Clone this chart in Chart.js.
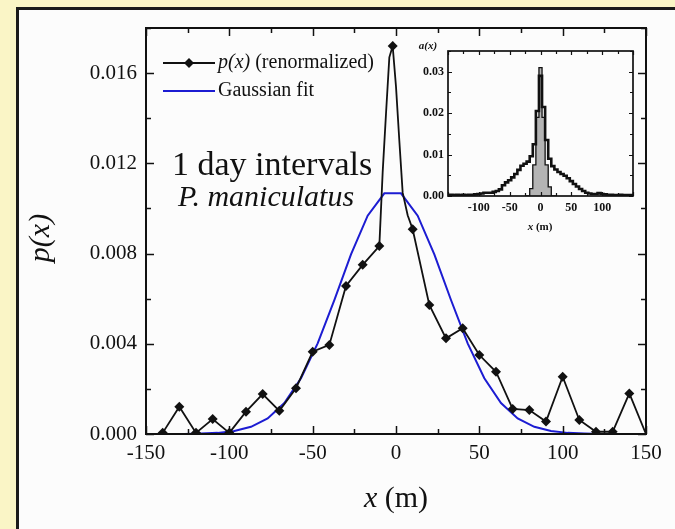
<!DOCTYPE html>
<html><head><meta charset="utf-8">
<script src="https://cdn.jsdelivr.net/npm/chart.js@4.4.0/dist/chart.umd.min.js"></script>
<style>
html,body{margin:0;padding:0;}
body{width:675px;height:529px;background:#faf5c6;position:relative;overflow:hidden;}
#panel{position:absolute;left:16px;top:7px;width:680px;height:540px;background:#fcfcfc;border:3px solid #1a1a1a;box-sizing:border-box;}
#main{position:absolute;left:0;top:0;width:675px;height:529px;}
#inset{position:absolute;left:400px;top:38px;width:245px;height:200px;}
</style></head><body>
<div id="panel"></div>
<canvas id="main" width="675" height="529"></canvas>
<canvas id="inset" width="245" height="200"></canvas>
<script>
// ---------- data ----------
const pX = [-140,-130,-120,-110,-100,-90,-80,-70,-60,-50,-40,-30,-20,-10,-8,-6,-4,-2,0,2,4,7,10,20,30,40,50,60,70,80,90,100,110,120,130,140,150];
const pY = [0.00005,0.00121,0.00005,0.00066,0.00005,0.00099,0.00177,0.00103,0.00203,0.00365,0.00395,0.00656,0.0075,0.00833,0.0116,0.0142,0.0167,0.0172,0.0154,0.0130,0.0107,0.0097,0.00908,0.00572,0.00424,0.00469,0.0035,0.00276,0.00111,0.00106,0.00055,0.00254,0.00062,0.0001,0.0001,0.0018,0];
const peakX = -2;

const gX = [-150,-147,-137,-127,-117,-107,-97,-87,-77,-67,-57,-47,-37,-27,-17,-7,3,13,23,33,43,53,63,73,83,93,103,113,123,133,143,150];
const gY = [0,0,0,0,0.00002,0.00005,0.00013,0.00032,0.00069,0.00137,0.00247,0.00402,0.00594,0.00796,0.00968,0.01067,0.01067,0.00968,0.00796,0.00594,0.00402,0.00247,0.00137,0.00069,0.00032,0.00013,0.00005,0.00002,0,0,0,0];

const xTicks = [-150,-100,-50,0,50,100,150];
const yTicks = [0,0.004,0.008,0.012,0.016];

const aX = [-150,-145,-140,-135,-130,-125,-120,-115,-110,-105,-100,-95,-90,-85,-80,-75,-70,-65,-60,-55,-50,-45,-40,-35,-30,-25,-20,-15,-10,-5,0,5,10,15,20,25,30,35,40,45,50,55,60,65,70,75,80,85,90,95,100,105,110,115,120,125,130,135,140,145,150];
const aBroad = [0.0002,0.0003,0.0002,0.0003,0.0002,0.0003,0.0002,0.0003,0.0003,0.0004,0.0005,0.0006,0.0008,0.0008,0.0008,0.0010,0.0012,0.0016,0.0026,0.0033,0.0038,0.0045,0.0053,0.0063,0.0073,0.0078,0.0083,0.0096,0.0125,0.0205,0.0290,0.0215,0.0135,0.0090,0.0072,0.0064,0.0058,0.0053,0.0049,0.0043,0.0036,0.0029,0.0023,0.0017,0.0012,0.0008,0.0006,0.0005,0.0005,0.0007,0.0005,0.0004,0.0003,0.0003,0.0002,0.0002,0.0003,0.0002,0.0002,0.0002,0.0002];
const nX = [-25,-20,-15,-10,-5,0,5,10,15,20,25];
const aNarrow = [0,0,0.0018,0.0075,0.019,0.031,0.019,0.0075,0.0022,0,0];
const insetXTicks = [-100,-50,0,50,100];
const insetYTicks = [0,0.01,0.02,0.03];

const legendP = [{t:'p(x)',i:true},{t:' (renormalized)',i:false}];
const legendG = [{t:'Gaussian fit',i:false}];
const note1 = '1 day intervals';
const note2 = 'P. maniculatus';
const yTitle = [{t:'p(x)',i:true}];
const xTitle = [{t:'x',i:true},{t:' (m)',i:false}];
const insetYTitle = [{t:'a(x)',i:true}];
const insetXTitle = [{t:'x',i:true},{t:' (m)',i:false}];

// ---------- helpers ----------
const FONT = "'Liberation Serif','Times New Roman',serif";
const INK = '#111';
const BLUE = '#1c1cd2';

function rich(ctx, parts, x, y, size, align, weight) {
  let total = 0;
  parts.forEach(p => { ctx.font = (p.i?'italic ':'') + (weight||'') + ' ' + size + 'px ' + FONT; p.w = ctx.measureText(p.t).width; total += p.w; });
  let cx = align === 'center' ? x - total/2 : (align === 'right' ? x - total : x);
  ctx.textAlign = 'left';
  parts.forEach(p => { ctx.font = (p.i?'italic ':'') + (weight||'') + ' ' + size + 'px ' + FONT; ctx.fillText(p.t, cx, y); cx += p.w; });
}

function frameAndTicks(chart, xStep, yStep, xMajor, yMajor, lenMaj, lenMin, lw) {
  const {ctx, chartArea:a, scales} = chart;
  ctx.save();
  ctx.strokeStyle = INK; ctx.lineWidth = lw;
  ctx.beginPath();
  const xs = scales.x, ys = scales.y;
  for (let v = xs.min; v <= xs.max + 1e-9; v += xStep) {
    const p = Math.round(xs.getPixelForValue(v)) + 0.5;
    const L = (Math.abs(v / xMajor - Math.round(v / xMajor)) < 1e-6) ? lenMaj : lenMin;
    ctx.moveTo(p, a.bottom); ctx.lineTo(p, a.bottom - L);
    ctx.moveTo(p, a.top); ctx.lineTo(p, a.top + L);
  }
  for (let v = ys.min; v <= ys.max + 1e-12; v += yStep) {
    const p = Math.round(ys.getPixelForValue(v)) + 0.5;
    const L = (Math.abs(v / yMajor - Math.round(v / yMajor)) < 1e-6) ? lenMaj : lenMin;
    ctx.moveTo(a.left, p); ctx.lineTo(a.left + L, p);
    ctx.moveTo(a.right, p); ctx.lineTo(a.right - L, p);
  }
  ctx.stroke();
  ctx.lineWidth = lw + 0.5;
  ctx.strokeRect(a.left, a.top, a.right - a.left, a.bottom - a.top);
  ctx.restore();
}

// ---------- main chart ----------
const mainDecor = {
  id: 'mainDecor',
  afterDraw(chart) {
    frameAndTicks(chart, 25, 0.002, 50, 0.004, 8, 5, 1.5);
    const ctx = chart.ctx;
    ctx.save();
    ctx.fillStyle = INK; ctx.textBaseline = 'middle';
    // legend
    ctx.strokeStyle = INK; ctx.lineWidth = 2;
    ctx.beginPath(); ctx.moveTo(163, 63); ctx.lineTo(215, 63); ctx.stroke();
    ctx.beginPath(); ctx.moveTo(189, 58); ctx.lineTo(194, 63); ctx.lineTo(189, 68); ctx.lineTo(184, 63); ctx.closePath(); ctx.fill();
    rich(ctx, legendP, 218, 63, 20, 'left');
    ctx.strokeStyle = BLUE;
    ctx.beginPath(); ctx.moveTo(163, 91); ctx.lineTo(215, 91); ctx.stroke();
    rich(ctx, legendG, 218, 91, 20, 'left');
    // annotations
    ctx.textBaseline = 'alphabetic';
    rich(ctx, [{t:note1,i:false}], 172, 175, 34, 'left');
    rich(ctx, [{t:note2,i:true}], 178, 206, 30, 'left');
    // axis titles
    rich(ctx, xTitle, 396, 507, 30, 'center');
    ctx.translate(41, 238); ctx.rotate(-Math.PI/2);
    ctx.textBaseline = 'middle';
    rich(ctx, yTitle, 0, 0, 30, 'center');
    ctx.restore();
  }
};

new Chart(document.getElementById('main'), {
  type: 'line',
  data: {
    datasets: [
      { label: 'Gaussian fit', data: gX.map((x,i)=>({x, y:gY[i]})), borderColor: BLUE, borderWidth: 2, pointRadius: 0, tension: 0, order: 2 },
      { label: 'p(x) (renormalized)', data: pX.map((x,i)=>({x, y:pY[i]})), borderColor: INK, backgroundColor: INK, borderWidth: 1.8, tension: 0, order: 1,
        pointStyle: 'rectRot',
        pointRadius: c => { const x = c.raw ? c.raw.x : 0; return ((x % 10 === 0 && x !== 0 && Math.abs(x) < 150) || x === peakX) ? 5 : 0; },
        pointBorderWidth: 0 }
    ]
  },
  options: {
    responsive: false, animation: false, devicePixelRatio: 1,
    layout: { padding: { left: 0, top: 28, right: 29, bottom: 0 } },
    plugins: { legend: { display: false }, tooltip: { enabled: false } },
    scales: {
      x: { type: 'linear', min: -150, max: 150,
        afterBuildTicks: s => { s.ticks = xTicks.map(v => ({value: v})); },
        afterFit: s => { s.height = 95; },
        grid: { display: false, drawTicks: false }, border: { display: false },
        ticks: { font: { family: FONT, size: 21 }, color: INK, padding: 7, maxRotation: 0, autoSkip: false, callback: v => String(v) } },
      y: { type: 'linear', min: 0, max: 0.018,
        afterBuildTicks: s => { s.ticks = yTicks.map(v => ({value: v})); },
        afterFit: s => { s.width = 146; },
        grid: { display: false, drawTicks: false }, border: { display: false },
        ticks: { font: { family: FONT, size: 21 }, color: INK, padding: 9, autoSkip: false, callback: v => Number(v).toFixed(3) } }
    }
  },
  plugins: [mainDecor]
});

// ---------- inset chart ----------
const insetDecor = {
  id: 'insetDecor',
  afterDraw(chart) {
    frameAndTicks(chart, 25, 0.005, 50, 0.01, 4, 3, 1.2);
    const ctx = chart.ctx;
    ctx.save();
    ctx.fillStyle = INK; ctx.textBaseline = 'middle';
    rich(ctx, insetYTitle, 28, 8, 11, 'center', 'bold');
    rich(ctx, insetXTitle, 140, 189, 11, 'center', 'bold');
    ctx.restore();
  }
};

new Chart(document.getElementById('inset'), {
  type: 'line',
  data: {
    datasets: [
      { label: 'narrow', data: nX.map((x,i)=>({x, y:aNarrow[i]})), stepped: 'middle', borderColor: INK, borderWidth: 1.3, backgroundColor: '#b4b4b4', fill: 'origin', pointRadius: 0, order: 2 },
      { label: 'broad', data: aX.map((x,i)=>({x, y:aBroad[i]})), stepped: 'middle', borderColor: INK, borderWidth: 2.6, pointRadius: 0, fill: false, order: 1 }
    ]
  },
  options: {
    responsive: false, animation: false, devicePixelRatio: 1,
    layout: { padding: { left: 0, top: 13, right: 12, bottom: 0 } },
    plugins: { legend: { display: false }, tooltip: { enabled: false } },
    scales: {
      x: { type: 'linear', min: -150, max: 150,
        afterBuildTicks: s => { s.ticks = insetXTicks.map(v => ({value: v})); },
        afterFit: s => { s.height = 42; },
        grid: { display: false, drawTicks: false }, border: { display: false },
        ticks: { font: { family: FONT, size: 12, weight: 'bold' }, color: INK, padding: 5, maxRotation: 0, autoSkip: false, callback: v => String(v) } },
      y: { type: 'linear', min: 0, max: 0.035,
        afterBuildTicks: s => { s.ticks = insetYTicks.map(v => ({value: v})); },
        afterFit: s => { s.width = 48; },
        grid: { display: false, drawTicks: false }, border: { display: false },
        ticks: { font: { family: FONT, size: 12, weight: 'bold' }, color: INK, padding: 4, autoSkip: false, callback: v => Number(v).toFixed(2) } }
    }
  },
  plugins: [insetDecor]
});
</script>
</body></html>
